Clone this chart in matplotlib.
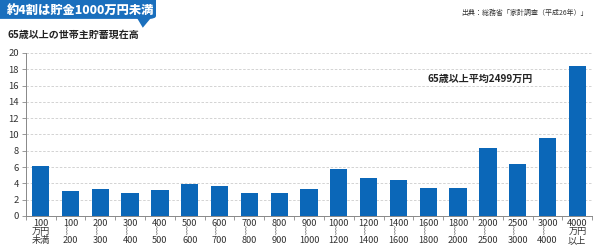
import matplotlib.pyplot as plt
import matplotlib.patches as mpatches
import numpy as np

plt.rcParams['font.family'] = ['Noto Sans CJK JP', 'DejaVu Sans']

# 貯蓄現在高階級（万円）
lower = ["100\n万円\n未満", "100", "200", "300", "400", "500", "600", "700", "800", "900",
         "1000", "1200", "1400", "1600", "1800", "2000", "2500", "3000", "4000\n万円\n以上"]
upper = ["", "200", "300", "400", "500", "600", "700", "800", "900", "1000",
         "1200", "1400", "1600", "1800", "2000", "2500", "3000", "4000", ""]
# 世帯の割合（％）
share = [6.1, 3.1, 3.3, 2.8, 3.2, 3.9, 3.7, 2.8, 2.8, 3.3,
         5.8, 4.6, 4.4, 3.4, 3.4, 8.3, 6.4, 9.6, 18.4]

labels = [lo if up == "" else lo + "\n︴\n" + up for lo, up in zip(lower, upper)]

blue = "#0b67b8"
fig = plt.figure(figsize=(6, 2.52), dpi=100)
ax = fig.add_axes([0.043, 0.143, 0.944, 0.647])

x = np.arange(len(share))
ax.bar(x, share, width=0.58, color=blue, zorder=3)
ax.set_xlim(-0.5, len(share) - 0.5)
ax.set_ylim(0, 20)
ax.set_yticks(range(0, 21, 2))
ax.yaxis.grid(True, linestyle=(0, (3, 2)), color="#cccccc", linewidth=0.6)

ax.set_xticks(x)
ax.set_xticklabels(labels, fontsize=6.6, color="#333333", linespacing=0.92)
ax.tick_params(axis="x", length=0, pad=2)
ax.set_xticks(np.arange(-0.5, len(share), 1), minor=True)
ax.tick_params(axis="x", which="minor", length=3, color="#888888", width=0.6)
ax.tick_params(axis="y", labelsize=6.8, length=3, color="#888888", width=0.6,
               labelcolor="#333333", pad=2)
for s in ["top", "right"]:
    ax.spines[s].set_visible(False)
for s in ["left", "bottom"]:
    ax.spines[s].set_color("#888888")
    ax.spines[s].set_linewidth(0.7)

ax.text(0.895, 0.84, "65歳以上平均2499万円", transform=ax.transAxes, ha="right", va="center",
        fontsize=7.2, fontweight="bold", color="#222222")

# タイトル帯
fig.patches.append(mpatches.FancyBboxPatch((-0.02, 0.925), 0.28, 0.1, boxstyle="round,pad=0,rounding_size=0.012",
                                           transform=fig.transFigure, facecolor="#1a6fbd", edgecolor="none"))
fig.patches.append(mpatches.Polygon([[0.228, 0.93], [0.252, 0.93], [0.238, 0.89]], closed=True,
                                    transform=fig.transFigure, facecolor="#1a6fbd", edgecolor="none"))
fig.text(0.012, 0.962, "約4割は貯金1000万円未満", fontsize=8.8, fontweight="heavy", color="white",
         ha="left", va="center")
fig.text(0.012, 0.862, "65歳以上の世帯主貯蓄現在高", fontsize=7.2, fontweight="bold", color="#222222",
         ha="left", va="center")
fig.text(0.98, 0.948, "出典：総務省「家計調査（平成26年）」", fontsize=5, color="#333333",
         ha="right", va="center")

fig.savefig("out.png", dpi=100)
